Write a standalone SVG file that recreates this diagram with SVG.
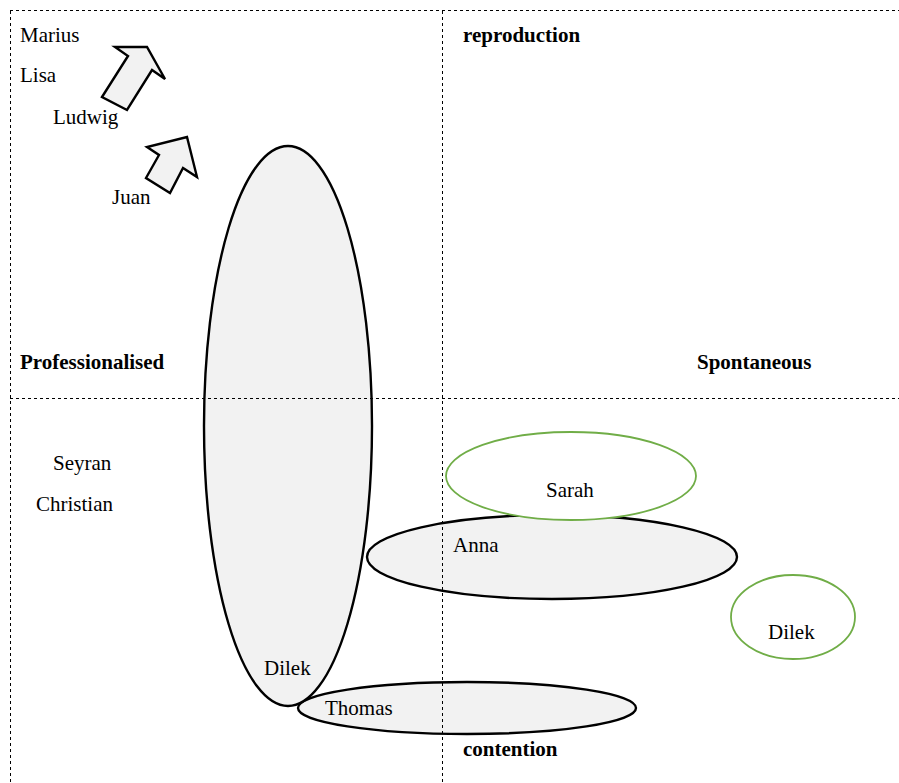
<svg xmlns="http://www.w3.org/2000/svg" width="899" height="783" viewBox="0 0 899 783">
<style>
text{font-family:"Liberation Serif","Times New Roman",serif;font-size:21px;fill:#000}
.b{font-weight:bold}
.gray{fill:#f2f2f2;stroke:#000;stroke-width:2.4}
.green{fill:#fff;stroke:#70ad47;stroke-width:1.8}
.dash{stroke:#000;stroke-width:1;stroke-dasharray:3 3;fill:none}
</style>
<rect width="899" height="783" fill="#fff"/>
<g id="arrow1"><polygon class="gray" points="102,97 128,56 115,47 147,47 165,79 152,70 127,110"/></g>
<g id="arrow2"><polygon class="gray" points="146,178 159,155 147,147 187,137 197,177 183,168 170,193"/></g>
<g id="thomas"><ellipse class="gray" cx="467" cy="708" rx="169" ry="26"/><text x="325" y="715">Thomas</text></g>
<g id="big"><ellipse class="gray" cx="288" cy="426" rx="84" ry="280"/><text x="264" y="675">Dilek</text></g>
<g id="anna"><ellipse class="gray" cx="552" cy="557" rx="185" ry="42"/><text x="453" y="552">Anna</text></g>
<g id="sarah"><ellipse class="green" cx="571" cy="476" rx="125" ry="44"/><text x="546" y="497">Sarah</text></g>
<g id="dilek2"><ellipse class="green" cx="793" cy="617" rx="62" ry="42"/><text x="768" y="639">Dilek</text></g>
<g id="connectors">
<line class="dash" x1="10" y1="10.5" x2="899" y2="10.5"/>
<line class="dash" x1="10.5" y1="11" x2="10.5" y2="783"/>
<line class="dash" x1="442.5" y1="11" x2="442.5" y2="783"/>
<line class="dash" x1="10" y1="398.5" x2="899" y2="398.5"/>
</g>
<g id="labels">
<text x="20" y="42">Marius</text>
<text x="20" y="82">Lisa</text>
<text x="53" y="124">Ludwig</text>
<text x="112" y="204">Juan</text>
<text x="53" y="470">Seyran</text>
<text x="36" y="511">Christian</text>
<text class="b" x="463" y="42">reproduction</text>
<text class="b" x="20" y="369">Professionalised</text>
<text class="b" x="697" y="369">Spontaneous</text>
<text class="b" x="463" y="756">contention</text>
</g>
</svg>
